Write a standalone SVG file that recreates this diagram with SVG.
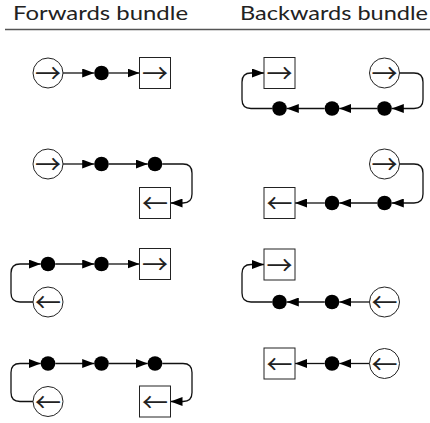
<svg xmlns="http://www.w3.org/2000/svg" width="430" height="423" viewBox="0 0 430 423">
<style>
.hdr{font-family:Lato,"Noto Sans",sans-serif;font-size:20px;fill:#222}
.n{fill:#fff;stroke:#222;stroke-width:1}
.d{fill:#000}
.g{font-family:"Noto Sans CJK SC",sans-serif;font-size:26px;fill:#222;text-anchor:middle}
.c{fill:none;stroke:#111;stroke-width:1.3}
</style>
<defs>
<marker id="ah" markerUnits="userSpaceOnUse" markerWidth="13" markerHeight="9" refX="12" refY="4.5" orient="auto">
<path d="M0,0 L12,4.5 L0,9 Z" fill="#000"/>
</marker>
</defs>
<g id="headers">
<text class="hdr" x="13" y="20" textLength="175" lengthAdjust="spacingAndGlyphs">Forwards bundle</text>
<text class="hdr" x="240" y="20" textLength="188" lengthAdjust="spacingAndGlyphs">Backwards bundle</text>
<line x1="5" y1="29.5" x2="430" y2="29.5" stroke="#555" stroke-width="1.3"/>
</g>
<g id="connectors">
<path class="c" marker-end="url(#ah)" d="M63,73 H94.2"/>
<path class="c" marker-end="url(#ah)" d="M108.8,73 H139.5"/>
<path class="c" marker-end="url(#ah)" d="M63,164 H94.2"/>
<path class="c" marker-end="url(#ah)" d="M108.8,164 H147.7"/>
<path class="c" marker-end="url(#ah)" d="M162.3,164 H183 Q192,164 192,173 V194 Q192,203 183,203 H170.5"/>
<path class="c" marker-end="url(#ah)" d="M33,302 H20 Q11,302 11,293 V273 Q11,264 20,264 H40.7"/>
<path class="c" marker-end="url(#ah)" d="M55.3,264 H94.2"/>
<path class="c" marker-end="url(#ah)" d="M108.8,264 H139.5"/>
<path class="c" marker-end="url(#ah)" d="M33,401.5 H20 Q11,401.5 11,392.5 V372.5 Q11,363.5 20,363.5 H40.7"/>
<path class="c" marker-end="url(#ah)" d="M55.3,363.5 H94.2"/>
<path class="c" marker-end="url(#ah)" d="M108.8,363.5 H147.7"/>
<path class="c" marker-end="url(#ah)" d="M162.3,363.5 H183 Q192,363.5 192,372.5 V392.5 Q192,401.5 183,401.5 H170.5"/>
<path class="c" marker-end="url(#ah)" d="M399.5,73 H414 Q423,73 423,82 V99.5 Q423,108.5 414,108.5 H391.8"/>
<path class="c" marker-end="url(#ah)" d="M377.2,108.5 H339.3"/>
<path class="c" marker-end="url(#ah)" d="M324.7,108.5 H286.8"/>
<path class="c" marker-end="url(#ah)" d="M272.2,108.5 H251 Q242,108.5 242,99.5 V82 Q242,73 251,73 H264"/>
<path class="c" marker-end="url(#ah)" d="M399.5,164 H414 Q423,164 423,173 V194 Q423,203 414,203 H391.8"/>
<path class="c" marker-end="url(#ah)" d="M377.2,203 H339.3"/>
<path class="c" marker-end="url(#ah)" d="M324.7,203 H295"/>
<path class="c" marker-end="url(#ah)" d="M369.5,302 H339.3"/>
<path class="c" marker-end="url(#ah)" d="M324.7,302 H286.8"/>
<path class="c" marker-end="url(#ah)" d="M272.2,302 H251 Q242,302 242,293 V273.5 Q242,264.5 251,264.5 H264"/>
<path class="c" marker-end="url(#ah)" d="M369.5,363.5 H339.3"/>
<path class="c" marker-end="url(#ah)" d="M324.7,363.5 H295"/>
</g>
<g id="f1-in"><circle class="n" cx="48" cy="73" r="15"/><text class="g" x="48" y="83">→</text></g>
<g id="f1-d1"><circle class="d" cx="101.5" cy="73" r="7.3"/></g>
<g id="f1-out"><rect class="n" x="139.5" y="57.5" width="31" height="31"/><text class="g" x="155" y="83">→</text></g>
<g id="f2-in"><circle class="n" cx="48" cy="164" r="15"/><text class="g" x="48" y="174">→</text></g>
<g id="f2-d1"><circle class="d" cx="101.5" cy="164" r="7.3"/></g>
<g id="f2-d2"><circle class="d" cx="155" cy="164" r="7.3"/></g>
<g id="f2-out"><rect class="n" x="139.5" y="187.5" width="31" height="31"/><text class="g" x="155" y="213">←</text></g>
<g id="f3-in"><circle class="n" cx="48" cy="302" r="15"/><text class="g" x="48" y="312">←</text></g>
<g id="f3-d1"><circle class="d" cx="48" cy="264" r="7.3"/></g>
<g id="f3-d2"><circle class="d" cx="101.5" cy="264" r="7.3"/></g>
<g id="f3-out"><rect class="n" x="139.5" y="248.5" width="31" height="31"/><text class="g" x="155" y="274">→</text></g>
<g id="f4-in"><circle class="n" cx="48" cy="401.5" r="15"/><text class="g" x="48" y="411.5">←</text></g>
<g id="f4-d1"><circle class="d" cx="48" cy="363.5" r="7.3"/></g>
<g id="f4-d2"><circle class="d" cx="101.5" cy="363.5" r="7.3"/></g>
<g id="f4-d3"><circle class="d" cx="155" cy="363.5" r="7.3"/></g>
<g id="f4-out"><rect class="n" x="139.5" y="386" width="31" height="31"/><text class="g" x="155" y="411.5">←</text></g>
<g id="b1-out"><rect class="n" x="264" y="57.5" width="31" height="31"/><text class="g" x="279.5" y="83">→</text></g>
<g id="b1-in"><circle class="n" cx="384.5" cy="73" r="15"/><text class="g" x="384.5" y="83">→</text></g>
<g id="b1-d1"><circle class="d" cx="279.5" cy="108.5" r="7.3"/></g>
<g id="b1-d2"><circle class="d" cx="332" cy="108.5" r="7.3"/></g>
<g id="b1-d3"><circle class="d" cx="384.5" cy="108.5" r="7.3"/></g>
<g id="b2-in"><circle class="n" cx="384.5" cy="164" r="15"/><text class="g" x="384.5" y="174">→</text></g>
<g id="b2-d1"><circle class="d" cx="332" cy="203" r="7.3"/></g>
<g id="b2-d2"><circle class="d" cx="384.5" cy="203" r="7.3"/></g>
<g id="b2-out"><rect class="n" x="264" y="187.5" width="31" height="31"/><text class="g" x="279.5" y="213">←</text></g>
<g id="b3-out"><rect class="n" x="264" y="249" width="31" height="31"/><text class="g" x="279.5" y="274.5">→</text></g>
<g id="b3-d1"><circle class="d" cx="279.5" cy="302" r="7.3"/></g>
<g id="b3-d2"><circle class="d" cx="332" cy="302" r="7.3"/></g>
<g id="b3-in"><circle class="n" cx="384.5" cy="302" r="15"/><text class="g" x="384.5" y="312">←</text></g>
<g id="b4-out"><rect class="n" x="264" y="348" width="31" height="31"/><text class="g" x="279.5" y="373.5">←</text></g>
<g id="b4-d1"><circle class="d" cx="332" cy="363.5" r="7.3"/></g>
<g id="b4-in"><circle class="n" cx="384.5" cy="363.5" r="15"/><text class="g" x="384.5" y="373.5">←</text></g>
</svg>
